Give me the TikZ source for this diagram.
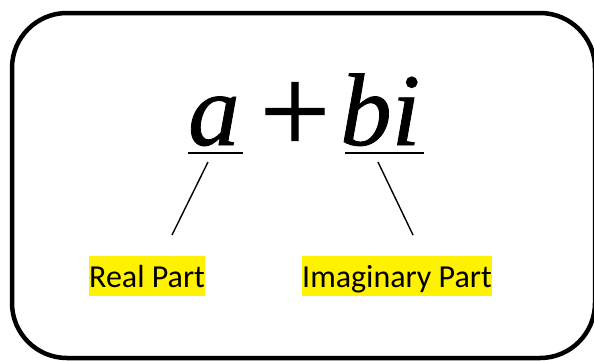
\documentclass[tikz,border=0pt]{standalone}
\usepackage{fontspec}
\setmainfont{Liberation Serif}
\newfontfamily\formulafont[FakeBold=0.8]{Liberation Serif}
\newfontfamily\labelfont{Carlito}
\begin{document}
\begin{tikzpicture}[x=1pt,y=-1pt,
  frame/.style={line width=4.5pt, rounded corners=55pt},
  formula/.style={font=\formulafont\fontsize{103}{110}\selectfont, inner sep=0pt},
  plussign/.style={font=\formulafont\fontsize{125}{130}\selectfont, inner sep=0pt},
  uline/.style={line width=1.3pt},
  pointer/.style={line width=1.4pt},
  tag/.style={font=\labelfont\fontsize{32}{38}\selectfont, fill=yellow, inner sep=0pt, text height=31pt, text depth=9pt, anchor=base west}]
\useasboundingbox (0,0) rectangle (594,360);
\clip (0,0) rectangle (594,360);
\draw[frame] (12,13) rectangle (595,358);
\node[formula, anchor=base west] (a) at (188,145) {\itshape a};
\node[plussign, anchor=base] (plus) at (295,153) {+};
\node[formula, anchor=base west] (bi) at (340,145) {\itshape bi};
\coordinate (ula) at (188,153);
\coordinate (ulaend) at (243,153);
\coordinate (ulb) at (345,153);
\coordinate (ulbend) at (424,153);
\draw[uline] (ula) -- (ulaend);
\draw[uline] (ulb) -- (ulbend);
\node[tag] (real) at (89,287) {Real Part};
\node[tag] (imag) at (302,287) {Imaginary Part};
\coordinate (pa1) at (208,162);
\coordinate (pa2) at (172,235);
\coordinate (pb1) at (378,162);
\coordinate (pb2) at (413,235);
\draw[pointer] (pa1) -- (pa2);
\draw[pointer] (pb1) -- (pb2);
\end{tikzpicture}
\end{document}
